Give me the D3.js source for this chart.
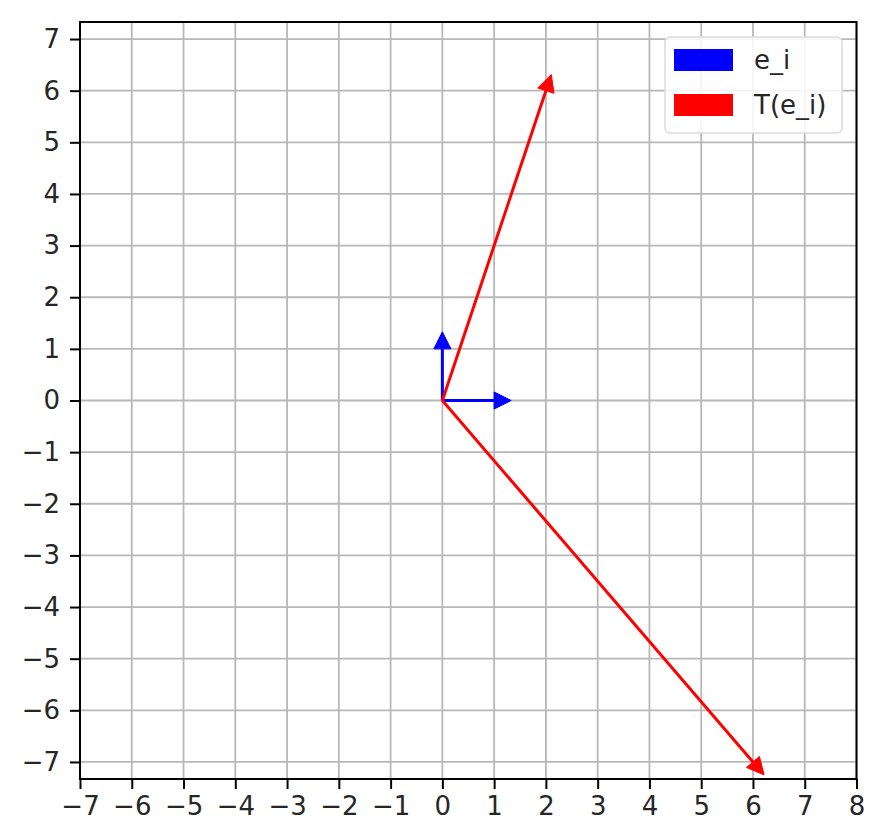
<!DOCTYPE html>
<html><head><meta charset="utf-8">
<script src="https://cdn.jsdelivr.net/npm/d3@7"></script>
<style>body{margin:0;background:#fff}</style>
</head><body>
<svg id="c" width="873" height="835"></svg>
<script>
const seriesNames = ["e_i", "T(e_i)"];
const seriesColors = ["#0000ff", "#ff0000"];
const basisVectors = [[1, 0], [0, 1]];
const transformedVectors = [[6, -7], [2, 6]];
const xTicks = d3.range(-7, 9);
const yTicks = d3.range(-7, 8);
const xDomain = [-7, 8];
const yDomain = [-7.33, 7.33];
const headLen = 0.33, headWidth = 0.33;

const svg = d3.select("#c");
const L = 80, R = 856.5, T = 22, B = 779;
const x = d3.scaleLinear().domain(xDomain).range([L, R]);
const y = d3.scaleLinear().domain(yDomain).range([B, T]);
const font = "DejaVu Sans, sans-serif";

// grid
svg.append("g").selectAll("line").data(xTicks).join("line")
  .attr("x1", d => x(d)).attr("x2", d => x(d)).attr("y1", T).attr("y2", B)
  .attr("stroke", "#b8b8b8").attr("stroke-width", 1.8);
svg.append("g").selectAll("line").data(yTicks).join("line")
  .attr("y1", d => y(d)).attr("y2", d => y(d)).attr("x1", L).attr("x2", R)
  .attr("stroke", "#b8b8b8").attr("stroke-width", 1.8);

// axes
const xAxis = d3.axisBottom(x).tickValues(xTicks).tickSize(10).tickPadding(8)
  .tickFormat(d => d < 0 ? "\u2212" + Math.abs(d) : d);
const yAxis = d3.axisLeft(y).tickValues(yTicks).tickSize(10).tickPadding(10)
  .tickFormat(d => d < 0 ? "\u2212" + Math.abs(d) : d);
const gx = svg.append("g").attr("transform", `translate(0,${B})`).call(xAxis);
const gy = svg.append("g").attr("transform", `translate(${L},0)`).call(yAxis);
[gx, gy].forEach(g => {
  g.select(".domain").remove();
  g.selectAll(".tick line").attr("stroke", "#000").attr("stroke-width", 2);
  g.selectAll(".tick text").attr("font-family", font).attr("font-size", 26).attr("fill", "#262626");
});
gx.selectAll(".tick text").attr("dy", "0.71em");

// arrows
function drawArrow(v, color) {
  const len = Math.hypot(v[0], v[1]);
  const ux = v[0] / len, uy = v[1] / len;
  const px = -uy, py = ux;
  const g = svg.append("g");
  g.append("line")
    .attr("x1", x(0)).attr("y1", y(0)).attr("x2", x(v[0])).attr("y2", y(v[1]))
    .attr("stroke", color).attr("stroke-width", 3);
  const tip = [v[0] + ux * headLen, v[1] + uy * headLen];
  const b1 = [v[0] + px * headWidth / 2, v[1] + py * headWidth / 2];
  const b2 = [v[0] - px * headWidth / 2, v[1] - py * headWidth / 2];
  g.append("polygon")
    .attr("points", [tip, b1, b2].map(p => `${x(p[0])},${y(p[1])}`).join(" "))
    .attr("fill", color).attr("stroke", color).attr("stroke-width", 1);
}
basisVectors.forEach(v => drawArrow(v, seriesColors[0]));
transformedVectors.forEach(v => drawArrow(v, seriesColors[1]));

// spines
svg.append("rect").attr("x", L).attr("y", T).attr("width", R - L).attr("height", B - T)
  .attr("fill", "none").attr("stroke", "#000").attr("stroke-width", 2);

// legend
const lg = svg.append("g");
lg.append("rect").attr("x", 665).attr("y", 37).attr("width", 177).attr("height", 96)
  .attr("rx", 5).attr("fill", "#fff").attr("fill-opacity", 0.85)
  .attr("stroke", "#dcdcdc").attr("stroke-width", 1.5);
seriesNames.forEach((n, i) => {
  const yy = 49 + i * 45;
  lg.append("rect").attr("x", 674).attr("y", yy).attr("width", 59).attr("height", 22)
    .attr("fill", seriesColors[i]);
  lg.append("text").attr("x", 754).attr("y", yy + 11).attr("dy", "0.35em")
    .attr("font-family", font).attr("font-size", 26).attr("fill", "#262626").text(n);
});
</script>
</body></html>
